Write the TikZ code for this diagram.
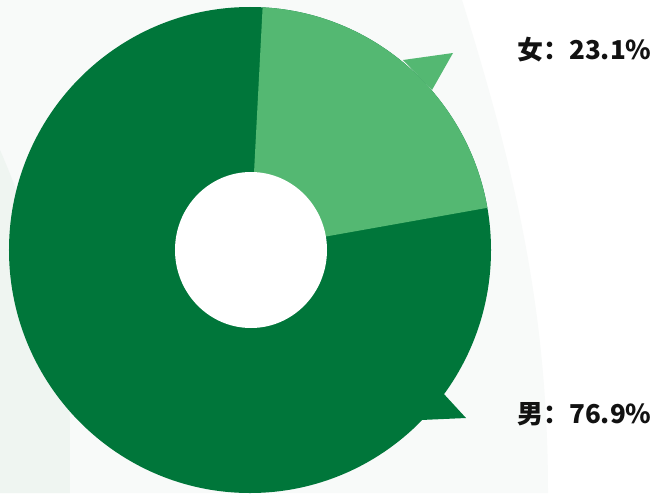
\documentclass[tikz,border=0pt]{standalone}
\usepackage{fontspec}
\newfontfamily\cjk{Noto Sans CJK SC}
\usepackage{tikz}
\usepackage{xcolor}

\definecolor{maleg}{HTML}{00763A}
\definecolor{femaleg}{HTML}{54B872}
\definecolor{bgrey}{HTML}{F8FAF9}
\definecolor{bgreen}{HTML}{EFF5F1}

\begin{document}
\begin{tikzpicture}[x=1pt,y=1pt,
	lbl/.style={anchor=west,inner sep=0pt,font=\cjk\bfseries\fontsize{26}{26}\selectfont,text=black!93}]
	\useasboundingbox (-250,-243) rectangle (405,250);
	% background
	\fill[white] (-250,-243) rectangle (405,250);
	\fill[bgrey] (-250,250) -- (212,250) .. controls (265,80) and (298,-60) .. (298,-243) -- (-250,-243) -- cycle;
	\fill[bgreen] (-250,100) .. controls (-215,20) and (-180,-100) .. (-180,-180) -- (-180,-243) -- (-250,-243) -- cycle;
	
	% ring
	\fill[maleg] (0,0) ellipse (241 and 243);
	\fill[femaleg] (0,0) -- ({241*cos(10)},{243*sin(10)}) 
	arc[start angle=10,end angle=87,x radius=241,y radius=243] -- cycle;
	\fill[white] (1,0) ellipse (76 and 78);
	
	% pointers
	\fill[femaleg] (153,190) -- (203,197) -- (182,160) -- cycle;
	\fill[maleg] (193,-143) -- (216,-168) -- (171,-170) -- cycle;
	
	\node[lbl] (female) at (267,200) {女：23.1\%};
	\node[lbl] (male) at (267,-164) {男：76.9\%};
\end{tikzpicture}
\end{document}
